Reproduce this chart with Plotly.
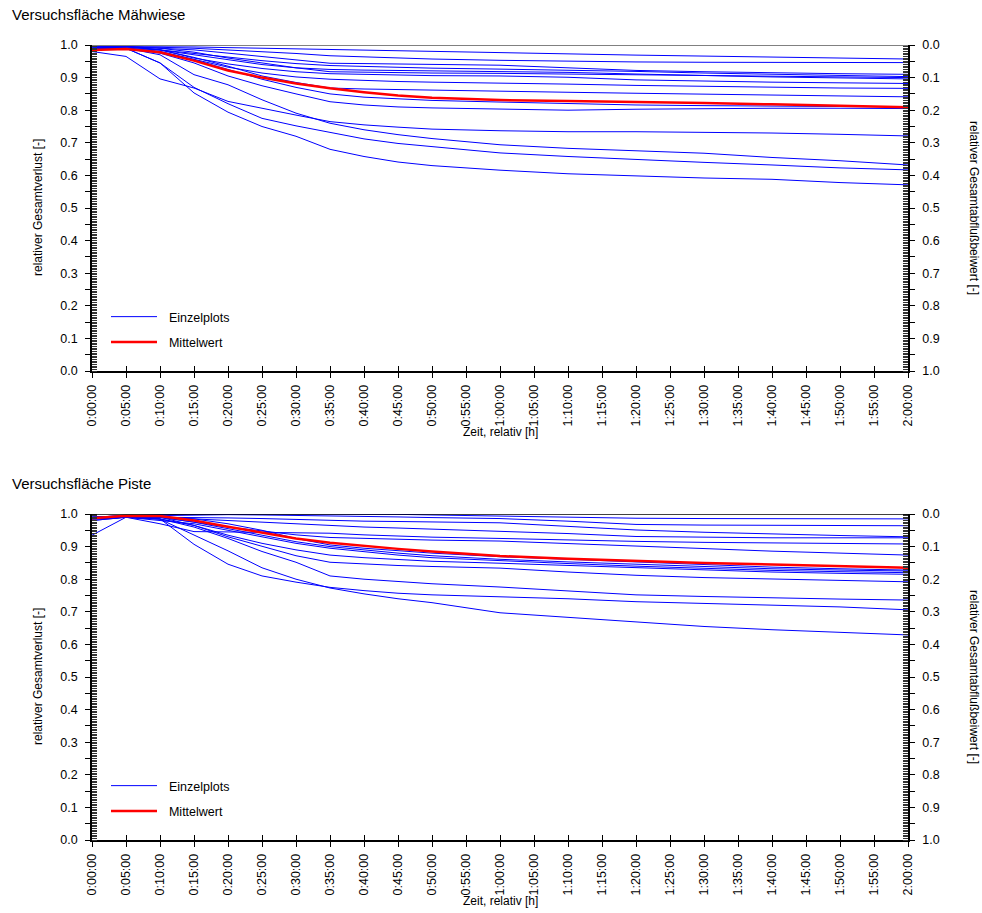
import plotly.graph_objects as go

# ---------------- data ----------------
minutes = [0, 5, 10, 15, 20, 25, 30, 35, 40, 45, 50, 60, 70, 80, 90, 100, 110, 120]

tick_minutes = [0, 5, 10, 15, 20, 25, 30, 35, 40, 45, 50, 55, 60, 65, 70, 75, 80,
                85, 90, 95, 100, 105, 110, 115, 120]
tick_labels = ["0:00:00", "0:05:00", "0:10:00", "0:15:00", "0:20:00", "0:25:00",
               "0:30:00", "0:35:00", "0:40:00", "0:45:00", "0:50:00", "0:55:00",
               "1:00:00", "1:05:00", "1:10:00", "1:15:00", "1:20:00", "1:25:00",
               "1:30:00", "1:35:00", "1:40:00", "1:45:00", "1:50:00", "1:55:00",
               "2:00:00"]

y_ticks = [0.0, 0.05, 0.1, 0.15, 0.2, 0.25, 0.3, 0.35, 0.4, 0.45, 0.5, 0.55,
           0.6, 0.65, 0.7, 0.75, 0.8, 0.85, 0.9, 0.95, 1.0]
y_labels = ["0.0", "", "0.1", "", "0.2", "", "0.3", "", "0.4", "", "0.5", "",
            "0.6", "", "0.7", "", "0.8", "", "0.9", "", "1.0"]

# Versuchsfläche Mähwiese - Einzelplots
m01 = [0.995, 0.995, 0.995, 0.994, 0.992, 0.990, 0.988, 0.985, 0.983, 0.981, 0.979, 0.975, 0.972, 0.969, 0.966, 0.963, 0.960, 0.957]
m02 = [0.995, 0.995, 0.993, 0.990, 0.985, 0.980, 0.974, 0.967, 0.963, 0.960, 0.957, 0.953, 0.950, 0.948, 0.947, 0.947, 0.946, 0.946]
m03 = [0.990, 0.995, 0.990, 0.985, 0.975, 0.965, 0.953, 0.944, 0.943, 0.942, 0.941, 0.938, 0.930, 0.922, 0.918, 0.914, 0.912, 0.910]
m04 = [0.995, 0.995, 0.985, 0.975, 0.963, 0.952, 0.943, 0.937, 0.934, 0.931, 0.929, 0.926, 0.923, 0.919, 0.914, 0.910, 0.906, 0.903]
m05 = [0.990, 0.990, 0.985, 0.970, 0.955, 0.940, 0.930, 0.925, 0.923, 0.922, 0.921, 0.920, 0.916, 0.911, 0.906, 0.902, 0.899, 0.896]
m06 = [0.995, 0.995, 0.990, 0.978, 0.960, 0.945, 0.930, 0.918, 0.916, 0.915, 0.914, 0.913, 0.911, 0.908, 0.906, 0.904, 0.902, 0.900]
m07 = [0.995, 0.995, 0.985, 0.960, 0.942, 0.928, 0.918, 0.912, 0.910, 0.908, 0.906, 0.905, 0.901, 0.893, 0.889, 0.886, 0.884, 0.882]
m08 = [0.990, 0.990, 0.980, 0.955, 0.932, 0.914, 0.902, 0.895, 0.891, 0.888, 0.886, 0.884, 0.880, 0.876, 0.873, 0.870, 0.868, 0.867]
m09 = [0.995, 0.995, 0.985, 0.962, 0.935, 0.905, 0.885, 0.868, 0.865, 0.863, 0.861, 0.858, 0.855, 0.852, 0.849, 0.846, 0.843, 0.841]
m10 = [0.990, 0.990, 0.980, 0.955, 0.925, 0.895, 0.870, 0.850, 0.840, 0.834, 0.830, 0.825, 0.820, 0.816, 0.814, 0.812, 0.811, 0.810]
m11 = [0.995, 0.990, 0.975, 0.945, 0.905, 0.875, 0.850, 0.826, 0.816, 0.810, 0.807, 0.804, 0.800, 0.803, 0.805, 0.806, 0.806, 0.805]
m12 = [0.980, 0.965, 0.896, 0.868, 0.827, 0.805, 0.785, 0.765, 0.755, 0.748, 0.742, 0.737, 0.734, 0.734, 0.733, 0.730, 0.726, 0.721]
m13 = [0.990, 0.990, 0.970, 0.909, 0.878, 0.832, 0.791, 0.760, 0.740, 0.725, 0.713, 0.694, 0.683, 0.675, 0.668, 0.655, 0.645, 0.632]
m14 = [0.990, 0.990, 0.945, 0.870, 0.820, 0.775, 0.752, 0.731, 0.712, 0.698, 0.688, 0.669, 0.658, 0.648, 0.640, 0.632, 0.623, 0.617]
m15 = [0.985, 0.990, 0.945, 0.853, 0.794, 0.750, 0.720, 0.680, 0.658, 0.641, 0.630, 0.616, 0.605, 0.598, 0.592, 0.588, 0.578, 0.571]
maehwiese_plots = [m01, m02, m03, m04, m05, m06, m07, m08, m09, m10, m11, m12, m13, m14, m15]
maehwiese_mean = [0.985, 0.988, 0.978, 0.952, 0.922, 0.900, 0.882, 0.867, 0.855, 0.845, 0.838, 0.831, 0.828, 0.826, 0.822, 0.818, 0.814, 0.809]

# Versuchsfläche Piste - Einzelplots
p01 = [0.990, 0.995, 0.998, 0.999, 1.000, 1.000, 1.000, 1.000, 1.000, 0.999, 0.997, 0.993, 0.990, 0.987, 0.986, 0.985, 0.985, 0.985]
p02 = [0.980, 0.990, 0.995, 0.997, 0.998, 0.997, 0.996, 0.995, 0.993, 0.991, 0.989, 0.986, 0.978, 0.968, 0.966, 0.965, 0.965, 0.964]
p03 = [0.985, 0.990, 0.990, 0.990, 0.988, 0.986, 0.983, 0.980, 0.978, 0.977, 0.976, 0.973, 0.962, 0.951, 0.944, 0.938, 0.934, 0.930]
p04 = [0.990, 0.995, 0.990, 0.985, 0.980, 0.975, 0.970, 0.964, 0.960, 0.957, 0.954, 0.948, 0.940, 0.931, 0.928, 0.927, 0.927, 0.927]
p05 = [0.985, 0.990, 0.970, 0.946, 0.945, 0.944, 0.942, 0.941, 0.936, 0.932, 0.929, 0.925, 0.920, 0.916, 0.913, 0.911, 0.909, 0.908]
p06 = [0.990, 0.995, 0.990, 0.975, 0.960, 0.948, 0.936, 0.928, 0.925, 0.922, 0.920, 0.917, 0.910, 0.902, 0.894, 0.886, 0.880, 0.874]
p07 = [0.990, 0.995, 0.990, 0.985, 0.970, 0.950, 0.925, 0.905, 0.895, 0.887, 0.880, 0.869, 0.861, 0.851, 0.843, 0.837, 0.832, 0.828]
p08 = [0.985, 0.990, 0.990, 0.975, 0.955, 0.935, 0.915, 0.900, 0.889, 0.880, 0.872, 0.861, 0.853, 0.846, 0.838, 0.832, 0.828, 0.825]
p09 = [0.985, 0.990, 0.980, 0.970, 0.950, 0.930, 0.910, 0.895, 0.884, 0.874, 0.866, 0.856, 0.848, 0.840, 0.833, 0.827, 0.823, 0.820]
p10 = [0.935, 0.990, 0.985, 0.965, 0.935, 0.910, 0.890, 0.874, 0.866, 0.860, 0.855, 0.849, 0.842, 0.835, 0.828, 0.822, 0.818, 0.815]
p11 = [0.990, 0.995, 0.990, 0.965, 0.930, 0.900, 0.872, 0.852, 0.846, 0.842, 0.839, 0.834, 0.822, 0.812, 0.805, 0.800, 0.796, 0.792]
p12 = [0.990, 0.990, 0.985, 0.960, 0.925, 0.885, 0.852, 0.810, 0.800, 0.793, 0.786, 0.776, 0.765, 0.752, 0.747, 0.742, 0.739, 0.736]
p13 = [0.980, 0.990, 0.985, 0.907, 0.846, 0.810, 0.791, 0.775, 0.765, 0.757, 0.752, 0.746, 0.740, 0.731, 0.725, 0.720, 0.715, 0.706]
p14 = [0.985, 0.990, 0.984, 0.935, 0.887, 0.835, 0.800, 0.773, 0.755, 0.740, 0.728, 0.697, 0.683, 0.668, 0.655, 0.645, 0.638, 0.629]
piste_plots = [p01, p02, p03, p04, p05, p06, p07, p08, p09, p10, p11, p12, p13, p14]
piste_mean = [0.987, 0.995, 0.994, 0.980, 0.961, 0.943, 0.925, 0.912, 0.902, 0.893, 0.885, 0.871, 0.863, 0.856, 0.850, 0.845, 0.840, 0.835]

# ---------------- geometry (page pixels; body margin removed via post_script) ----------------
W, H = 982, 913
PL, PR = 92, 908          # plot left / right
PT, PB = 45, 840          # top of upper plot / bottom of lower plot
PW, PH = PR - PL, PB - PT

def px_x(px):
    return (px - PL) / PW

def px_y(py):
    return 1 - (py - PT) / PH

FONT = "Liberation Sans, Arial, sans-serif"
fig = go.Figure()

def add_panel(plots, mean, xa, ya, xov, yr, legend_name):
    for i, s in enumerate(plots):
        fig.add_trace(go.Scatter(x=minutes, y=s, mode="lines", xaxis=xa, yaxis=ya,
                                 line=dict(color="#0000ff", width=1),
                                 name="\u00a0\u00a0Einzelplots",
                                 legendgroup=legend_name + "a",
                                 showlegend=(i == 0), legend=legend_name,
                                 hoverinfo="skip"))
    fig.add_trace(go.Scatter(x=minutes, y=mean, mode="lines", xaxis=xa, yaxis=ya,
                             line=dict(color="#ff0000", width=2.5),
                             name="\u00a0\u00a0Mittelwert", legendgroup=legend_name + "b",
                             showlegend=True, legend=legend_name, hoverinfo="skip"))
    # invisible anchors so that the overlay axes (inner x ticks, right y axis) are drawn
    fig.add_trace(go.Scatter(x=[60], y=[0.5], mode="markers", xaxis=xov, yaxis=ya,
                             marker=dict(opacity=0), showlegend=False, hoverinfo="skip"))
    fig.add_trace(go.Scatter(x=[60], y=[0.5], mode="markers", xaxis=xa, yaxis=yr,
                             marker=dict(opacity=0), showlegend=False, hoverinfo="skip"))

add_panel(maehwiese_plots, maehwiese_mean, "x", "y", "x3", "y2", "legend")
add_panel(piste_plots, piste_mean, "x2", "y3", "x4", "y4", "legend2")

tickfont = dict(family=FONT, size=12.5, color="#000000")

def xaxis(anchor):
    return dict(range=[0, 120], tickmode="array", tickvals=tick_minutes, ticktext=tick_labels,
                tickangle=-90, ticks="outside", ticklen=5, tickcolor="#000000",
                ticklabelstandoff=2,
                showline=True, linecolor="#000000", linewidth=1.5, showgrid=False,
                zeroline=False, tickfont=tickfont, anchor=anchor, domain=[0, 1],
                fixedrange=True)

def xover(over, anchor):
    return dict(range=[0, 120], tickmode="array", tickvals=tick_minutes, ticktext=tick_labels,
                ticks="inside", ticklen=5, tickcolor="#000000", showticklabels=False,
                showline=False, showgrid=False, zeroline=False, overlaying=over, anchor=anchor,
                fixedrange=True)

def yaxis(domain, anchor, side="left", rng=(0, 1), overlay=None):
    d = dict(range=list(rng), tickmode="array", tickvals=y_ticks, ticktext=y_labels,
             ticks="outside", ticklen=5, tickcolor="#000000", ticklabelstandoff=5,
             minor=dict(ticks="inside", dtick=0.005, tick0=0, ticklen=5,
                        tickcolor="#333333", tickwidth=1, showgrid=False),
             showline=True, linecolor="#000000", linewidth=1.5, showgrid=False,
             zeroline=False, tickfont=tickfont, anchor=anchor, side=side, fixedrange=True)
    if overlay:
        d["overlaying"] = overlay
    else:
        d["domain"] = domain
    return d

top_dom = [px_y(371), 1.0]
bot_dom = [0.0, px_y(514)]

fig.update_layout(
    width=W, height=H,
    margin=dict(l=PL, r=W - PR, t=PT, b=H - PB),
    paper_bgcolor="white", plot_bgcolor="white",
    font=dict(family=FONT, size=12, color="#000000"),
    xaxis=xaxis("y"),
    xaxis2=xaxis("y3"),
    xaxis3=xover("x", "y"),
    xaxis4=xover("x2", "y3"),
    yaxis=yaxis(top_dom, "x"),
    yaxis2=yaxis(top_dom, "x", side="right", rng=(1, 0), overlay="y"),
    yaxis3=yaxis(bot_dom, "x2"),
    yaxis4=yaxis(bot_dom, "x2", side="right", rng=(1, 0), overlay="y3"),
    legend=dict(x=(106 - PL) / PW, y=px_y(302), xanchor="left", yanchor="top",
                bgcolor="rgba(0,0,0,0)", font=dict(family=FONT, size=12.5),
                itemwidth=46, tracegroupgap=6),
    legend2=dict(x=(106 - PL) / PW, y=px_y(771), xanchor="left", yanchor="top",
                 bgcolor="rgba(0,0,0,0)", font=dict(family=FONT, size=12.5),
                 itemwidth=46, tracegroupgap=6),
    showlegend=True,
)

# top frame lines
fig.add_shape(type="line", xref="x", yref="y", x0=0, x1=120, y0=1, y1=1,
              line=dict(color="#808080", width=2))
fig.add_shape(type="line", xref="x2", yref="y3", x0=0, x1=120, y0=1, y1=1,
              line=dict(color="#000000", width=1.5))

ann = []
ann.append(dict(text="Versuchsfläche Mähwiese", x=px_x(10), y=px_y(14), xanchor="left",
                yanchor="middle", font=dict(size=15)))
ann.append(dict(text="Versuchsfläche Piste", x=px_x(10), y=px_y(483), xanchor="left",
                yanchor="middle", font=dict(size=15)))
for off in (0, 469):
    ann.append(dict(text="Zeit, relativ [h]", x=0.5, y=px_y(432 + off), xanchor="center",
                    yanchor="middle", font=dict(size=12)))
    ann.append(dict(text="relativer Gesamtverlust [-]", x=px_x(38), y=px_y(208 + off),
                    xanchor="center", yanchor="middle", textangle=-90, font=dict(size=12)))
    ann.append(dict(text="relativer Gesamtabflußbeiwert [-]", x=px_x(974), y=px_y(208 + off),
                    xanchor="center", yanchor="middle", textangle=90, font=dict(size=12)))
for a in ann:
    a.update(xref="paper", yref="paper", showarrow=False)
fig.update_layout(annotations=ann)

fig.write_html("out.html",
               config={"displayModeBar": False, "staticPlot": False},
               post_script="document.body.style.margin='0';document.body.style.overflow='hidden';")
